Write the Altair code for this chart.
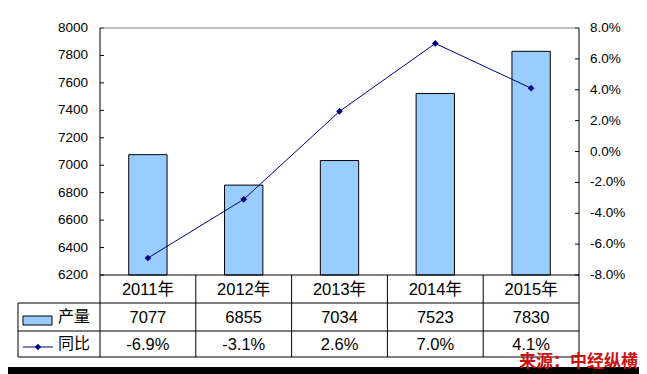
import altair as alt
import pandas as pd

# ---- data ----
years = ["2011年", "2012年", "2013年", "2014年", "2015年"]
output = [7077, 6855, 7034, 7523, 7830]
yoy = [-6.9, -3.1, 2.6, 7.0, 4.1]
left_ticks = [6200, 6400, 6600, 6800, 7000, 7200, 7400, 7600, 7800, 8000]
right_ticks = [-8, -6, -4, -2, 0, 2, 4, 6, 8]
right_labels = ["-8.0%", "-6.0%", "-4.0%", "-2.0%", "0.0%", "2.0%", "4.0%", "6.0%", "8.0%"]
series_names = ["产量", "同比"]
source = ["来源：中经纵横"]

W, H = 479, 247
FONT = "Liberation Sans, Arial, Noto Sans CJK SC, sans-serif"
CJK = "Noto Sans CJK SC, sans-serif"
BAR = "#99CCFF"
NAVY = "#000080"

df = pd.DataFrame({
    "year": years,
    "output": output,
    "yoy": yoy,
    "out_txt": [str(v) for v in output],
    "yoy_txt": [f"{v:.1f}%" for v in yoy],
})
lt_df = pd.DataFrame({"v": left_ticks, "t": [str(v) for v in left_ticks]})
rt_df = pd.DataFrame({"v": right_ticks, "t": right_labels})
one = pd.DataFrame({"a": [0]})

xscale = alt.Scale(domain=years, paddingInner=0.6, paddingOuter=0.3)
yl = alt.Scale(domain=[6200, 8000], zero=False, nice=False)
yr = alt.Scale(domain=[-8, 8], zero=False, nice=False)
X = alt.X("year:N", scale=xscale, sort=years, axis=None)


def rule(x1, x2, y1, y2, color="black"):
    return alt.Chart(one).mark_rule(color=color, strokeWidth=1).encode(
        x=alt.value(x1), x2=alt.value(x2), y=alt.value(y1), y2=alt.value(y2))


def box(x1, x2, y1, y2, color):
    return alt.Chart(one).mark_rect(color=color).encode(
        x=alt.value(x1), x2=alt.value(x2), y=alt.value(y1), y2=alt.value(y2))


# dark frame (bottom edge of the card)
frame = [box(-92, 560, 339, 360, "black")]

# plot-area border lines
borders = [
    rule(0, W, 0, 0, "#808080"),   # top
    rule(0, 0, 0, H),              # left axis line
    rule(W, W, 0, H),              # right axis line
]

# bars
bars = alt.Chart(df).mark_bar(color=BAR, stroke="black", strokeWidth=1).encode(
    x=X,
    y=alt.Y("output:Q", scale=yl, axis=None, stack=None),
)
# left axis ticks + labels
l_ticks = alt.Chart(lt_df).mark_rule(color="black").encode(
    y=alt.Y("v:Q", scale=yl, axis=None), x=alt.value(0), x2=alt.value(4))
l_labels = alt.Chart(lt_df).mark_text(
    font=FONT, fontSize=13.5, color="black", align="right", baseline="middle").encode(
    y=alt.Y("v:Q", scale=yl, axis=None), x=alt.value(-12), text="t:N")
left_layer = alt.layer(bars, l_ticks, l_labels)

# line + right axis
line = alt.Chart(df).mark_line(
    color=NAVY, strokeWidth=1,
    point=alt.OverlayMarkDef(shape="diamond", size=45, color=NAVY, filled=True),
).encode(
    x=X,
    y=alt.Y("yoy:Q", scale=yr, axis=None),
)
r_ticks = alt.Chart(rt_df).mark_rule(color="black").encode(
    y=alt.Y("v:Q", scale=yr, axis=None), x=alt.value(W - 4), x2=alt.value(W))
r_labels = alt.Chart(rt_df).mark_text(
    font=FONT, fontSize=13.5, color="black", align="left", baseline="middle").encode(
    y=alt.Y("v:Q", scale=yr, axis=None), x=alt.value(W + 11), text="t:N")
right_layer = alt.layer(line, r_ticks, r_labels)

# data table grid
step = W / len(years)
grid = [
    rule(0, W, H, H),
    rule(-82, W, 275, 275),
    rule(-82, W, 303, 303),
    rule(-82, W, 329, 329),
    rule(-82, -82, 275, 329),
] + [rule(i * step, i * step, H, 329) for i in range(len(years) + 1)]

txt_kw = dict(fontSize=16.5, font=FONT, color="black", baseline="middle", align="center")
cat_text = alt.Chart(df).mark_text(**txt_kw).encode(x=X, y=alt.value(262), text="year:N")
out_text = alt.Chart(df).mark_text(**txt_kw).encode(x=X, y=alt.value(290), text="out_txt:N")
yoy_text = alt.Chart(df).mark_text(**txt_kw).encode(x=X, y=alt.value(317), text="yoy_txt:N")

# legend inside table
leg_rect = alt.Chart(one).mark_rect(color=BAR, stroke="black", strokeWidth=1).encode(
    x=alt.value(-77), x2=alt.value(-48), y=alt.value(288), y2=alt.value(297))
leg_line = rule(-77, -47, 319, 319, NAVY)
leg_pt = alt.Chart(one).mark_point(shape="diamond", size=40, color=NAVY, filled=True, opacity=1).encode(
    x=alt.value(-62), y=alt.value(319))
leg_t1 = alt.Chart(pd.DataFrame({"t": [series_names[0]]})).mark_text(
    fontSize=16, font=CJK, color="black", baseline="middle", align="left").encode(
    x=alt.value(-42), y=alt.value(289), text="t:N")
leg_t2 = alt.Chart(pd.DataFrame({"t": [series_names[1]]})).mark_text(
    fontSize=16, font=CJK, color="black", baseline="middle", align="left").encode(
    x=alt.value(-42), y=alt.value(316), text="t:N")

src = alt.Chart(pd.DataFrame({"t": source})).mark_text(
    fontSize=17, font=CJK, fontWeight="bold", color="#CC1111", baseline="middle", align="right").encode(
    x=alt.value(538), y=alt.value(334), text="t:N")

chart = alt.layer(
    *frame, left_layer, right_layer, *borders, *grid, cat_text, out_text, yoy_text,
    leg_rect, leg_line, leg_pt, leg_t1, leg_t2, src,
).resolve_scale(y="independent").properties(
    width=W, height=H,
    autosize=alt.AutoSizeParams(type="none"),
    padding={"left": 92, "top": 20, "right": 60, "bottom": 99},
    background="white",
).configure_view(
    stroke=None,
)

chart.save("out.html", embed_options={"renderer": "svg", "actions": False})
